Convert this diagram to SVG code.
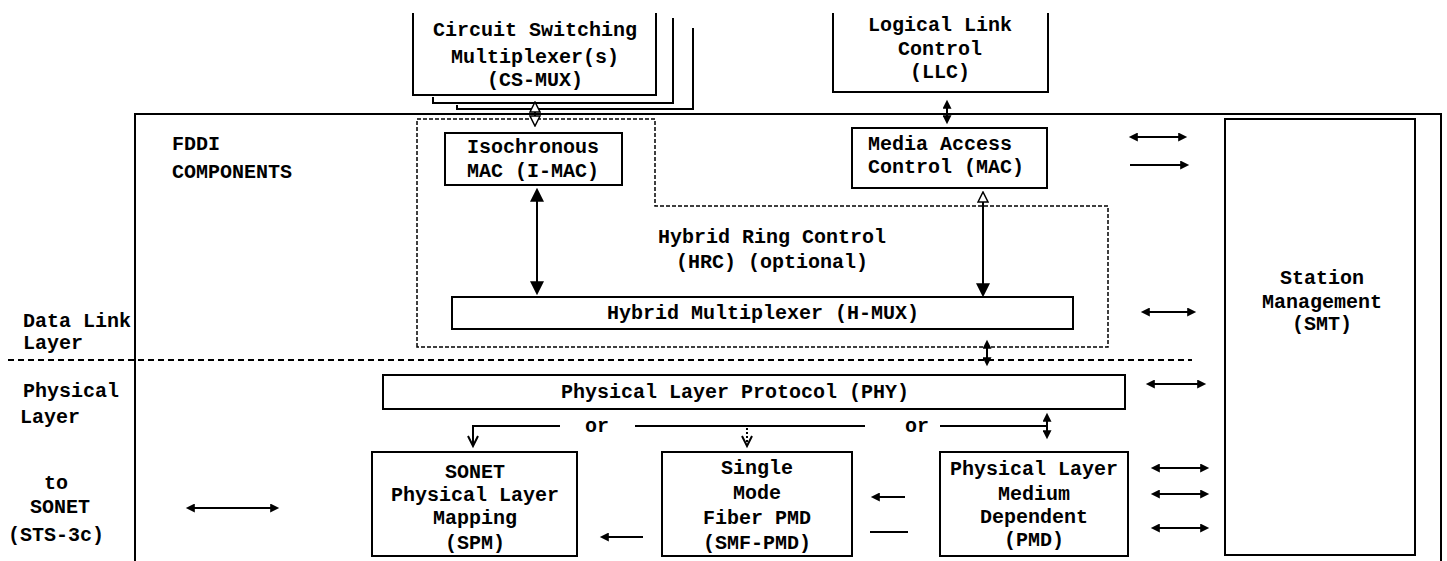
<svg xmlns="http://www.w3.org/2000/svg" width="1447" height="561" viewBox="0 0 1447 561">
<defs>
<marker id="a" viewBox="0 0 10 10" refX="2" refY="5" markerWidth="10" markerHeight="9" markerUnits="userSpaceOnUse" orient="auto-start-reverse"><path d="M0,0 L10,5 L0,10 z" fill="#000"/></marker>
<marker id="ab" viewBox="0 0 10 10" refX="2" refY="5" markerWidth="14" markerHeight="16" markerUnits="userSpaceOnUse" orient="auto-start-reverse"><path d="M0,0 L10,5 L0,10 z" fill="#000"/></marker>
<marker id="ho" viewBox="-1 -1 12 12" refX="2" refY="5" markerWidth="12" markerHeight="12" markerUnits="userSpaceOnUse" orient="auto-start-reverse"><path d="M0,0 L10,5 L0,10 z" fill="#fff" stroke="#000" stroke-width="1.5"/></marker>
<marker id="v" viewBox="-1 -1 12 12" refX="10" refY="5" markerWidth="12" markerHeight="12" markerUnits="userSpaceOnUse" orient="auto" overflow="visible"><path d="M0,0 L10,5 L0,10" fill="none" stroke="#000" stroke-width="2"/></marker>
</defs>
<style>
.t{font-family:"Liberation Mono",monospace;font-weight:bold;font-size:20px;fill:#000}
.c{text-anchor:middle}
.box{fill:none;stroke:#000;stroke-width:2}
.ln{fill:none;stroke:#000;stroke-width:2}
.dash{fill:none;stroke:#000;stroke-width:1.5;stroke-dasharray:4 2}
.sep{fill:none;stroke:#000;stroke-width:2;stroke-dasharray:6 4}
</style>
<rect width="1447" height="561" fill="#fff"/>

<g id="frame">
<path class="ln" d="M135,561 V114 H1441 V561" stroke-width="2.5"/>
<text class="t" x="172" y="150">FDDI</text>
<text class="t" x="172" y="178">COMPONENTS</text>
</g>

<g id="layer-labels">
<path class="sep" d="M8,360 H1192"/>
<text class="t" x="23" y="327">Data Link</text>
<text class="t" x="23" y="349">Layer</text>
<text class="t" x="23" y="397">Physical</text>
<text class="t" x="20" y="423">Layer</text>
<text class="t c" x="56" y="489">to</text>
<text class="t c" x="60" y="513">SONET</text>
<text class="t c" x="56" y="541">(STS-3c)</text>
</g>

<g id="cs-mux">
<path class="ln" d="M457,105 V109 H693 V28"/>
<path class="ln" d="M433,97 V103 H673 V18"/>
<path class="box" d="M413,13 V95 H656 V13" fill="#fff"/>
<text class="t c" x="535" y="36">Circuit Switching</text>
<text class="t c" x="535" y="63">Multiplexer(s)</text>
<text class="t c" x="535" y="86">(CS-MUX)</text>
</g>

<g id="llc">
<path class="box" d="M833,13 V92 H1048 V13"/>
<text class="t c" x="940" y="31">Logical Link</text>
<text class="t c" x="940" y="55">Control</text>
<text class="t c" x="940" y="78">(LLC)</text>
</g>

<g id="hrc">
<path class="dash" d="M417,347 V119 H655 V206 H1108 V347 Z"/>
<text class="t c" x="772" y="243">Hybrid Ring Control</text>
<text class="t c" x="772" y="268">(HRC) (optional)</text>
</g>

<g id="i-mac">
<rect class="box" x="445" y="133" width="177" height="52"/>
<text class="t c" x="533" y="153">Isochronous</text>
<text class="t c" x="533" y="177">MAC (I-MAC)</text>
</g>

<g id="mac">
<rect class="box" x="852" y="128" width="195" height="60"/>
<text class="t" x="868" y="150">Media Access</text>
<text class="t" x="868" y="173">Control (MAC)</text>
</g>

<g id="h-mux">
<rect class="box" x="452" y="297" width="621" height="32"/>
<text class="t c" x="763" y="319">Hybrid Multiplexer (H-MUX)</text>
</g>

<g id="phy">
<rect class="box" x="383" y="375" width="742" height="34"/>
<text class="t c" x="735" y="398">Physical Layer Protocol (PHY)</text>
</g>

<g id="spm">
<rect class="box" x="372" y="452" width="205" height="104"/>
<text class="t c" x="475" y="478">SONET</text>
<text class="t c" x="475" y="501">Physical Layer</text>
<text class="t c" x="475" y="524">Mapping</text>
<text class="t c" x="475" y="549">(SPM)</text>
</g>

<g id="smf-pmd">
<rect class="box" x="662" y="452" width="190" height="104"/>
<text class="t c" x="757" y="474">Single</text>
<text class="t c" x="757" y="499">Mode</text>
<text class="t c" x="757" y="524">Fiber PMD</text>
<text class="t c" x="757" y="549">(SMF-PMD)</text>
</g>

<g id="pmd">
<rect class="box" x="940" y="452" width="188" height="104"/>
<text class="t c" x="1034" y="475">Physical Layer</text>
<text class="t c" x="1034" y="500">Medium</text>
<text class="t c" x="1034" y="523">Dependent</text>
<text class="t c" x="1034" y="546">(PMD)</text>
</g>

<g id="smt">
<rect class="box" x="1225" y="119" width="190" height="436"/>
<text class="t c" x="1322" y="284">Station</text>
<text class="t c" x="1322" y="308">Management</text>
<text class="t c" x="1322" y="330">(SMT)</text>
</g>

<g id="connectors">
<line class="ln" x1="535" y1="110" x2="535" y2="118" stroke-width="1.5" marker-start="url(#ho)" marker-end="url(#ho)"/>
<line class="ln" x1="947" y1="107" x2="947" y2="117" stroke-width="3" marker-start="url(#a)" marker-end="url(#a)"/>
<line class="ln" x1="537" y1="199" x2="537" y2="284" stroke-width="5" marker-start="url(#ab)" marker-end="url(#ab)"/>
<line class="ln" x1="983" y1="200" x2="983" y2="286" stroke-width="3" marker-start="url(#ho)" marker-end="url(#ab)"/>
<line class="ln" x1="987" y1="347" x2="987" y2="359" stroke-width="3" marker-start="url(#a)" marker-end="url(#a)"/>
<path class="ln" d="M560,426 H473 V446" marker-end="url(#v)"/>
<text class="t c" x="597" y="432">or</text>
<line class="ln" x1="635" y1="426" x2="865" y2="426"/>
<line class="ln" x1="747" y1="428" x2="747" y2="446" stroke-width="1.5" stroke-dasharray="2 2" marker-end="url(#v)"/>
<text class="t c" x="917" y="432">or</text>
<line class="ln" x1="940" y1="426" x2="1047" y2="426"/>
<line class="ln" x1="1047" y1="420" x2="1047" y2="432" stroke-width="3" marker-start="url(#a)" marker-end="url(#a)"/>
<line class="ln" x1="905" y1="497" x2="878" y2="497" stroke-width="3" marker-end="url(#a)"/>
<line class="ln" x1="870" y1="532" x2="908" y2="532" stroke-width="3"/>
<line class="ln" x1="643" y1="537" x2="607" y2="537" stroke-width="3" marker-end="url(#a)"/>
<line class="ln" x1="193" y1="508" x2="272" y2="508" marker-start="url(#a)" marker-end="url(#a)"/>
<line class="ln" x1="1136" y1="137" x2="1180" y2="137" marker-start="url(#a)" marker-end="url(#a)"/>
<line class="ln" x1="1130" y1="165" x2="1182" y2="165" stroke-width="2.5" marker-end="url(#a)"/>
<line class="ln" x1="1148" y1="312" x2="1189" y2="312" marker-start="url(#a)" marker-end="url(#a)"/>
<line class="ln" x1="1153" y1="384" x2="1199" y2="384" stroke-width="2.5" marker-start="url(#a)" marker-end="url(#a)"/>
<line class="ln" x1="1158" y1="468" x2="1202" y2="468" marker-start="url(#a)" marker-end="url(#a)"/>
<line class="ln" x1="1158" y1="494" x2="1202" y2="494" marker-start="url(#a)" marker-end="url(#a)"/>
<line class="ln" x1="1158" y1="528" x2="1202" y2="528" marker-start="url(#a)" marker-end="url(#a)"/>
</g>
</svg>
